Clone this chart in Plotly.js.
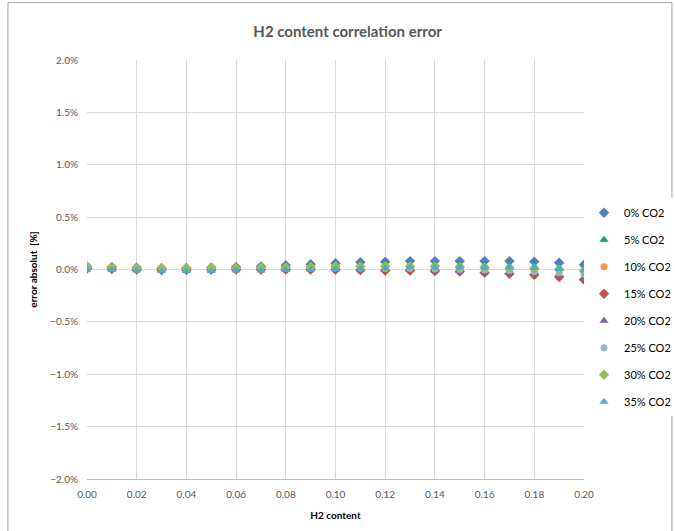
<!DOCTYPE html>
<html>
<head>
<meta charset="utf-8">
<script src="https://cdn.plot.ly/plotly-3.0.1.min.js"></script>
<style>html,body{margin:0;padding:0;background:#fff;}#chart{width:675px;height:531px;}</style>
</head>
<body>
<div id="chart"></div>
<script>
const h2Content = [0,0.01,0.02,0.03,0.04,0.05,0.06,0.07,0.08,0.09,0.10,0.11,0.12,0.13,0.14,0.15,0.16,0.17,0.18,0.19,0.20];
const seriesNames = ["0% CO2","5% CO2","10% CO2","15% CO2","20% CO2","25% CO2","30% CO2","35% CO2"];
const co2_0  = [0.03,0.025,0.02,0.015,0.015,0.02,0.025,0.03,0.04,0.05,0.06,0.07,0.075,0.08,0.08,0.08,0.08,0.08,0.075,0.065,0.045];
const co2_5  = [0.02,0.015,0.01,0.005,0.005,0.01,0.015,0.02,0.025,0.03,0.035,0.04,0.045,0.045,0.045,0.045,0.04,0.035,0.03,0.02,0.005];
const co2_10 = [0.01,0.005,0,-0.005,-0.005,-0.005,0,0,0,0,0,-0.005,-0.01,-0.01,-0.015,-0.02,-0.03,-0.04,-0.055,-0.075,-0.10];
const co2_15 = [0.01,0.005,0,-0.005,-0.005,0,0,0,0,0,0,-0.005,-0.01,-0.01,-0.015,-0.02,-0.03,-0.04,-0.05,-0.07,-0.095];
const co2_20 = [0.015,0.01,0.005,0,0,0,0.005,0.005,0.005,0.005,0.005,0,0,-0.005,-0.01,-0.015,-0.02,-0.03,-0.04,-0.06,-0.085];
const co2_25 = [0.035,0.025,0.02,0.015,0.015,0.015,0.015,0.015,0.015,0.015,0.015,0.015,0.01,0.01,0.005,0,-0.005,-0.01,-0.02,-0.03,-0.045];
const co2_30 = [0.025,0.02,0.015,0.01,0.01,0.015,0.015,0.02,0.02,0.025,0.03,0.03,0.03,0.03,0.03,0.025,0.02,0.015,0.01,0,-0.015];
const co2_35 = [0,-0.005,-0.01,-0.015,-0.015,-0.015,-0.01,-0.01,-0.005,0,0.005,0.01,0.015,0.02,0.02,0.02,0.02,0.02,0.015,0.005,-0.01];
const seriesValues = [co2_0,co2_5,co2_10,co2_15,co2_20,co2_25,co2_30,co2_35];
const colors = ["#4F81BD","#00B050","#F79646","#C0504D","#8064A2","#95B3D7","#9BBB59","#4BACC6"];
const symbols = ["diamond","triangle-up","circle","diamond","triangle-up","circle","diamond","triangle-up"];

const traces = seriesNames.map((n,i)=>({
  type:'scatter', mode:'markers', name:n, x:h2Content, y:seriesValues[i],
  legendgroup:'g'+i,
  marker:{symbol:symbols[i], color:colors[i], size:symbols[i]==='circle'?7:8}
}));

const layout = {
  width:675, height:531,
  margin:{l:87, r:91, t:60, b:52, autoexpand:false},
  paper_bgcolor:'#fff', plot_bgcolor:'#fff',
  font:{family:'Lato, "Open Sans", sans-serif', color:'#595959', size:10},
  title:{text:'<b>H2 content correlation error</b>', x:0.515, xanchor:'center', y:0.94, yanchor:'middle',
    font:{size:15, color:'#595959', family:'Lato, "Open Sans", sans-serif'}},
  xaxis:{range:[0,0.2], dtick:0.02, tick0:0, tickformat:'.2f', showgrid:true, gridcolor:'#D9D9D9',
    zeroline:false, showline:true, linecolor:'#BFBFBF', ticks:'', ticklabelstandoff:6,
    tickfont:{size:10,color:'#595959'},
    title:{text:'<b>H2 content</b>', font:{size:10,color:'#000'}, standoff:12}},
  yaxis:{range:[-2,2], dtick:0.5, tickformat:'.1f', ticksuffix:'%', showgrid:true, gridcolor:'#D9D9D9',
    zeroline:false, showline:false, ticks:'', ticklabelstandoff:8, tickfont:{size:10,color:'#595959'},
    title:{text:'<b>error absolut  [%]</b>', font:{size:10,color:'#000'}, standoff:10}},
  legend:{x:1.0, xanchor:'left', y:0.67, yanchor:'top', traceorder:'grouped', tracegroupgap:8,
    font:{size:11,color:'#000'}, itemwidth:30},
  shapes:[{type:'rect', xref:'paper', yref:'paper', x0:-0.159, x1:1.177, y0:-0.13, y1:1.137,
    line:{color:'#A6A6A6', width:1}, fillcolor:'rgba(0,0,0,0)'}],
  showlegend:true
};
Plotly.newPlot('chart', traces, layout, {displayModeBar:false});
</script>
</body>
</html>
